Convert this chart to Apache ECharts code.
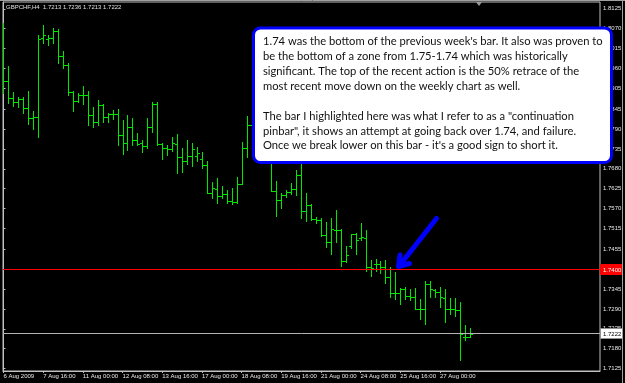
<!DOCTYPE html>
<html>
<head>
<meta charset="utf-8">
<script src="https://cdn.jsdelivr.net/npm/echarts@6.0.0/dist/echarts.min.js"></script>
<style>
  html, body { margin: 0; padding: 0; background: #000; }
  #chart { width: 625px; height: 383px; }
</style>
</head>
<body>
<div id="chart"></div>
<script>
// GBPCHF H4 bars, 6 Aug 2009 08:00 .. 28 Aug 2009 00:00
const open = [1.7983,1.7925,1.7876,1.7865,1.7873,1.7848,1.7820,1.7823,1.8043,1.8041,
  1.8043,1.8064,1.7993,1.7968,1.7893,1.7870,1.7884,1.7884,1.7829,1.7811,
  1.7857,1.7823,1.7832,1.7833,1.7773,1.7753,1.7797,1.7760,1.7753,1.7743,
  1.7797,1.7859,1.7748,1.7737,1.7734,1.7749,1.7712,1.7702,1.7715,1.7715,
  1.7706,1.7692,1.7613,1.7625,1.7604,1.7611,1.7591,1.7588,1.7639,1.7738,
  1.7801,1.7821,1.7843,1.7774,1.7732,1.7618,1.7593,1.7608,1.7615,1.7624,
  1.7662,1.7562,1.7579,1.7541,1.7539,1.7497,1.7476,1.7511,1.7509,1.7425,
  1.7464,1.7498,1.7489,1.7489,1.7407,1.7414,1.7414,1.7407,1.7379,1.7335,
  1.7335,1.7346,1.7325,1.7323,1.7291,1.7291,1.7360,1.7342,1.7337,1.7321,
  1.7291,1.7291,1.7286,1.7213,1.7213];
const high = [1.8085,1.7966,1.7893,1.7880,1.7879,1.7897,1.7841,1.8053,1.8080,1.8052,
  1.8072,1.8068,1.8007,1.7974,1.7896,1.7890,1.7911,1.7896,1.7851,1.7871,
  1.7861,1.7834,1.7843,1.7846,1.7816,1.7831,1.7821,1.7779,1.7760,1.7820,
  1.7866,1.7866,1.7751,1.7745,1.7769,1.7777,1.7737,1.7760,1.7751,1.7740,
  1.7726,1.7702,1.7643,1.7654,1.7632,1.7622,1.7627,1.7657,1.7754,1.7827,
  1.7832,1.7857,1.7849,1.7788,1.7746,1.7646,1.7614,1.7622,1.7641,1.7676,
  1.7710,1.7614,1.7581,1.7546,1.7544,1.7532,1.7544,1.7565,1.7514,1.7464,
  1.7500,1.7501,1.7528,1.7509,1.7427,1.7428,1.7425,1.7427,1.7407,1.7393,
  1.7348,1.7351,1.7346,1.7349,1.7318,1.7367,1.7367,1.7346,1.7351,1.7346,
  1.7320,1.7320,1.7309,1.7245,1.7236];
const low = [1.7890,1.7864,1.7855,1.7852,1.7836,1.7806,1.7791,1.7769,1.8029,1.8025,
  1.8031,1.7975,1.7961,1.7884,1.7841,1.7865,1.7859,1.7802,1.7796,1.7802,
  1.7810,1.7810,1.7819,1.7747,1.7720,1.7732,1.7747,1.7747,1.7727,1.7737,
  1.7783,1.7746,1.7708,1.7719,1.7730,1.7669,1.7671,1.7693,1.7687,1.7702,
  1.7683,1.7613,1.7599,1.7585,1.7598,1.7585,1.7581,1.7585,1.7638,1.7712,
  1.7788,1.7802,1.7760,1.7710,1.7618,1.7549,1.7571,1.7602,1.7611,1.7608,
  1.7544,1.7535,1.7537,1.7528,1.7492,1.7462,1.7442,1.7476,1.7409,1.7421,
  1.7461,1.7442,1.7483,1.7395,1.7381,1.7397,1.7390,1.7362,1.7323,1.7318,
  1.7305,1.7318,1.7316,1.7291,1.7263,1.7249,1.7323,1.7323,1.7295,1.7253,
  1.7277,1.7272,1.7148,1.7205,1.7213];
const close = [1.7925,1.7876,1.7865,1.7873,1.7848,1.7820,1.7823,1.8041,1.8051,1.8043,
  1.8064,1.7993,1.7968,1.7893,1.7870,1.7884,1.7884,1.7829,1.7811,1.7857,
  1.7823,1.7832,1.7833,1.7773,1.7753,1.7797,1.7760,1.7749,1.7743,1.7797,
  1.7859,1.7748,1.7737,1.7734,1.7751,1.7713,1.7702,1.7715,1.7734,1.7725,
  1.7692,1.7613,1.7628,1.7604,1.7611,1.7591,1.7588,1.7639,1.7738,1.7801,
  1.7821,1.7843,1.7774,1.7732,1.7618,1.7593,1.7608,1.7615,1.7625,1.7662,
  1.7562,1.7579,1.7541,1.7539,1.7497,1.7476,1.7514,1.7509,1.7425,1.7441,
  1.7498,1.7483,1.7490,1.7407,1.7405,1.7414,1.7407,1.7379,1.7335,1.7335,
  1.7346,1.7325,1.7323,1.7291,1.7291,1.7360,1.7346,1.7337,1.7323,1.7291,
  1.7291,1.7286,1.7221,1.7213,1.7222];

// time scale labels (bar index -> text)
const dateTickIdx = [0, 8, 16, 24, 32, 40, 48, 56, 64, 72, 80, 88];
const dateLabels = ["6 Aug 2009", "7 Aug 16:00", "11 Aug 00:00", "12 Aug 08:00", "13 Aug 16:00",
  "17 Aug 00:00", "18 Aug 08:00", "19 Aug 16:00", "21 Aug 00:00", "24 Aug 08:00",
  "25 Aug 16:00", "27 Aug 00:00"];
// price scale labels
const priceTicks = [1.8125, 1.8070, 1.8015, 1.7960, 1.7905, 1.7845, 1.7790, 1.7735, 1.7680,
  1.7625, 1.7570, 1.7515, 1.7455, 1.7400, 1.7345, 1.7290, 1.7235, 1.7180, 1.7125];

// horizontal price levels: drawn support line, current bid
const levels = [1.7400, 1.7222];
const levelStyles = [
  { line: "#ff0000", box: "#ff0000", text: "#ffffff", border: "#ff0000" },
  { line: "#b4b4b4", box: "#ffffff", text: "#000000", border: "#909090" }
];

const noteLines = [
  "1.74 was the bottom of the previous week's bar. It also was proven to",
  "be the bottom of a zone from 1.75-1.74 which was historically",
  "significant. The top of the recent action is the 50% retrace of the",
  "most recent move down on the weekly chart as well.",
  "",
  "The bar I highlighted here was what I refer to as a \"continuation",
  "pinbar\", it shows an attempt at going back over 1.74, and failure.",
  "Once we break lower on this bar - it's a good sign to short it."
];

const barColor = "#00e800";
const axisFont = "Liberation Sans, Arial, sans-serif";

const bars = open.map((o, i) => [i, o, high[i], low[i], close[i]]);
const last = bars.length - 1;
const titleText = "GBPCHF,H4  " + [open[last], high[last], low[last], close[last]]
  .map(v => v.toFixed(4)).join(" ");

// fit note text size to the box width
const measure = document.createElement("canvas").getContext("2d");
measure.font = "100px Lato";
const noteSize = 100 * 340 / measure.measureText(noteLines[0]).width;

const chart = echarts.init(document.getElementById("chart"));

function renderBar(params, api) {
  const x = Math.round(api.coord([api.value(0), api.value(1)])[0]) + 0.5;
  const yo = Math.round(api.coord([0, api.value(1)])[1]) + 0.5;
  const yh = Math.round(api.coord([0, api.value(2)])[1]);
  const yl = Math.round(api.coord([0, api.value(3)])[1]) + 1;
  const yc = Math.round(api.coord([0, api.value(4)])[1]) + 0.5;
  const st = { stroke: barColor, lineWidth: 1 };
  return {
    type: "group",
    children: [
      { type: "line", shape: { x1: x, y1: yh, x2: x, y2: yl }, style: st },
      { type: "line", shape: { x1: x - 2.5, y1: yo, x2: x, y2: yo }, style: st },
      { type: "line", shape: { x1: x, y1: yc, x2: x + 2.5, y2: yc }, style: st }
    ]
  };
}

// price level line across the chart with its tag on the price scale
function renderLevel(params, api) {
  const s = levelStyles[params.dataIndex];
  const cs = params.coordSys;
  const v = api.value(1);
  const y = Math.floor(api.coord([0, v])[1]) + 0.5;
  const right = cs.x + cs.width;
  return {
    type: "group",
    children: [
      { type: "line", shape: { x1: cs.x, y1: y, x2: right, y2: y }, style: { stroke: s.line, lineWidth: 1 } },
      { type: "rect", shape: { x: right + 0.5, y: y - 5, width: 22, height: 10 }, style: { fill: s.box, stroke: s.border, lineWidth: 1 } },
      { type: "text", x: right + 3, y: y + 0.5, style: { text: v.toFixed(4), fill: s.text, font: "6px " + axisFont, verticalAlign: "middle" } }
    ]
  };
}

const noteTexts = noteLines.map((t, i) => ({
  type: "text",
  z: 101,
  left: 263,
  top: 36 + i * 14.9,
  style: { text: t, fill: "#111", font: noteSize.toFixed(2) + "px Lato" }
}));

chart.setOption({
  backgroundColor: "#000",
  animation: false,
  title: {
    text: titleText,
    left: 6,
    top: 4,
    padding: 0,
    textStyle: { color: "#e0e0e0", fontSize: 6, fontWeight: "normal", fontFamily: axisFont }
  },
  grid: {
    left: 3, right: 25, top: 2, bottom: 12,
    show: true,
    borderColor: "#c0c0c0",
    borderWidth: 1
  },
  xAxis: {
    type: "value",
    min: -0.1,
    max: 120.26,
    splitLine: { show: false },
    axisLine: { lineStyle: { color: "#c0c0c0" } },
    axisTick: { length: 2, customValues: dateTickIdx, lineStyle: { color: "#c0c0c0" } },
    axisLabel: {
      customValues: dateTickIdx,
      formatter: v => dateLabels[dateTickIdx.indexOf(Math.round(v))] || "",
      align: "left",
      margin: 2,
      color: "#e8e8e8",
      fontSize: 6,
      fontFamily: axisFont
    }
  },
  yAxis: {
    type: "value",
    position: "right",
    min: 1.711771,
    max: 1.814399,
    scale: true,
    splitLine: { show: false },
    axisLine: { show: true, lineStyle: { color: "#c0c0c0" } },
    axisTick: { show: true, length: 2, customValues: priceTicks, lineStyle: { color: "#c0c0c0" } },
    axisLabel: {
      customValues: priceTicks,
      formatter: v => v.toFixed(4),
      margin: 3,
      color: "#e8e8e8",
      fontSize: 6,
      fontFamily: axisFont
    }
  },
  series: [
    {
      type: "custom",
      name: "GBPCHF",
      renderItem: renderBar,
      encode: { x: 0, y: [1, 2, 3, 4] },
      data: bars,
      clip: true
    },
    {
      type: "custom",
      name: "levels",
      z: 5,
      silent: true,
      renderItem: renderLevel,
      encode: { x: 0, y: 1 },
      data: levels.map(v => [0, v]),
      clip: false
    }
  ],
  graphic: [
    // outer frame
    { type: "line", z: 50, shape: { x1: 0, y1: 0.5, x2: 625, y2: 0.5 }, style: { stroke: "#a0a0a0", lineWidth: 1 } },
    { type: "line", z: 50, shape: { x1: 622.5, y1: 0, x2: 622.5, y2: 383 }, style: { stroke: "#a0a0a0", lineWidth: 1 } },
    // chart shift marker
    { type: "polygon", z: 50, shape: { points: [[476, 2], [482, 2], [479, 6]] }, style: { fill: "#9a9a9a" } },
    // note box
    {
      type: "rect", z: 100,
      shape: { x: 253.5, y: 28, width: 358, height: 134.5, r: 7 },
      style: { fill: "#ffffff", stroke: "#0000ff", lineWidth: 3 }
    },
    ...noteTexts,
    // arrow to the pinbar
    {
      type: "polyline", z: 100,
      shape: { points: [[436.5, 218.5], [399.5, 265.5]] },
      style: { stroke: "#0000ff", lineWidth: 5, lineCap: "round", lineJoin: "round", fill: null }
    },
    {
      type: "polyline", z: 100,
      shape: { points: [[400, 255], [398.5, 266.5], [409.5, 263.5]] },
      style: { stroke: "#0000ff", lineWidth: 5, lineCap: "round", lineJoin: "round", fill: null }
    }
  ]
});
</script>
</body>
</html>
